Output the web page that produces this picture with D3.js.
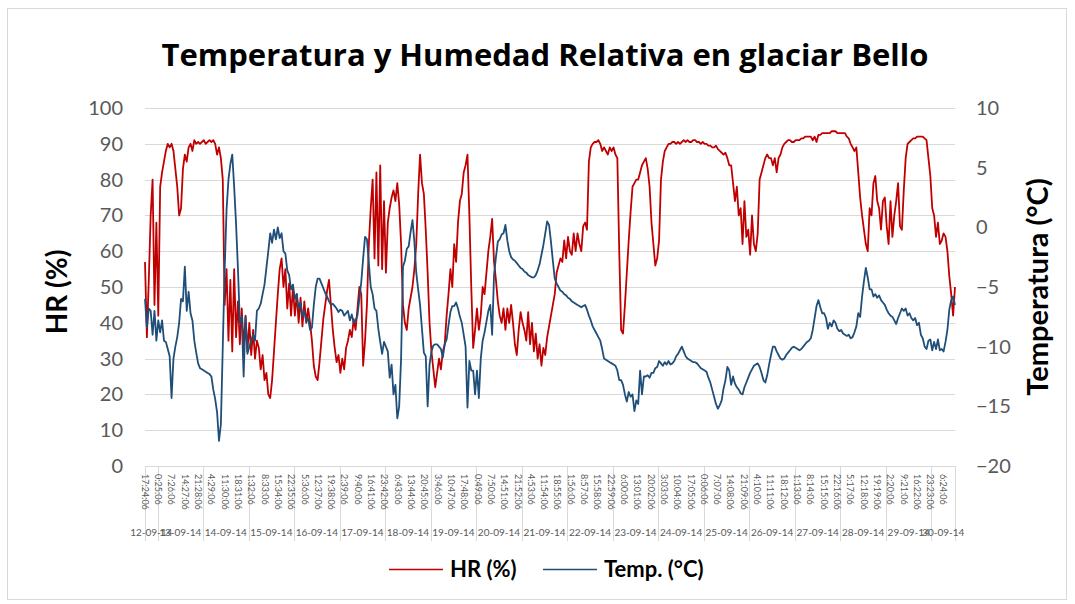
<!DOCTYPE html>
<html lang="es">
<head>
    <meta charset="utf-8">
    <title>Temperatura y Humedad Relativa en glaciar Bello</title>
    <script src="https://d3js.org/d3.v7.min.js"></script>
    <style type="text/css">
        body { margin: 0; background: #fff; }
        text { font-family: Lato, "Open Sans", sans-serif; }
        .grid line { stroke: #d9d9d9; stroke-width: 1px; }
        .axis text { fill: #595959; font-size: 20px; }
        .line { fill: none; stroke-width: 1.8px; stroke-linejoin: round; }
        .title { font-family: "Open Sans", Lato, sans-serif; font-size: 31px; font-weight: bold; fill: #000; }
        .axis-title { font-size: 28px; font-weight: bold; fill: #000; }
        .legend text { font-size: 22px; font-weight: bold; fill: #000; }
    </style>
</head>
<body>
<script type="text/javascript">

// Data: hourly readings, glaciar Bello, from 12-09-14 17:24:06
const startTime = "2014-09-12 17:24:06";
const stepHours = 1;

const hrValues = [
    57, 36, 52, 70, 80, 45, 68, 42, 78, 82,
    85, 88, 90, 89, 90, 88, 83, 78, 70, 72,
    83, 87, 85, 89, 90, 88, 91, 90, 90.5, 90,
    90.5, 91, 90, 90.5, 91, 90.5, 91, 90, 87, 89,
    86, 80, 45, 55, 35, 52, 32, 55, 36, 46,
    34, 44, 33, 42, 32, 40, 31, 38, 30, 35,
    33, 27, 31, 24, 26, 20, 19, 24, 32, 40,
    48, 55, 58, 50, 55, 44, 51, 42, 50, 42,
    48, 40, 47, 39, 46, 40, 44, 40, 35, 28,
    25, 24, 29, 35, 41, 45, 49, 52, 45, 38,
    33, 29, 31, 26, 30, 27, 33, 35, 38, 36,
    41, 38, 44, 50, 48, 28, 35, 45, 62, 72,
    80, 58, 82, 56, 84, 55, 74, 54, 68, 72,
    75, 77, 74, 79, 73, 62, 45, 40, 38, 44,
    47, 50, 55, 62, 76, 87, 79, 76, 66, 54,
    40, 32, 27, 22, 26, 30, 27, 32, 34, 42,
    48, 55, 50, 62, 57, 68, 74, 76, 82, 84,
    87, 70, 50, 33, 38, 44, 38, 42, 50, 48,
    54, 60, 64, 69, 57, 52, 46, 42, 40, 44,
    38, 44, 40, 45, 40, 34, 31, 38, 43, 40,
    38, 35, 43, 34, 40, 32, 37, 30, 34, 28,
    33, 31, 36, 39, 42, 45, 48, 54, 56, 58,
    57, 63, 58, 64, 60, 59, 65, 60, 65, 62,
    60, 67, 68, 66, 85, 89, 90, 90.5, 90.5, 91,
    90, 88, 89, 88, 87, 89, 88, 89, 87, 86,
    60, 38, 37, 45, 54, 63, 71, 78, 79, 80,
    80, 82, 84, 85, 86, 83, 78, 68, 62, 56,
    58, 63, 80, 85, 88, 89, 90, 90, 90.5, 90.5,
    90, 90.5, 90, 90.5, 91, 90.5, 91, 90.5, 90.5, 91,
    91, 90.5, 90.5, 90, 90.5, 90, 90, 89.5, 89.5, 89,
    89, 89.5, 88.5, 88, 87.5, 87, 87.5, 86, 84, 84,
    79, 74, 78, 70, 72, 62, 74, 64, 66, 59,
    70, 62, 60, 65, 80, 82, 84, 86, 87, 86,
    86, 84, 86, 82, 86, 87, 89, 90, 90.5, 91,
    91, 90.5, 90.5, 91, 91, 91, 91.5, 91.5, 92, 92,
    92, 92, 91, 92, 90.5, 92.5, 92.5, 93, 93, 93,
    93, 93, 93.5, 93.5, 93.5, 93, 93, 93, 93, 93,
    92, 91.5, 90, 89, 88, 89, 82, 75, 70, 66,
    62, 60, 72, 70, 79, 81, 74, 72, 66, 74,
    75, 67, 62, 74, 64, 70, 74, 79, 67, 66,
    77, 86, 90, 90.5, 91, 91.5, 91.5, 92, 92, 92,
    92, 91.5, 91, 86, 81, 72, 70, 64, 68, 62,
    63, 65, 64, 60, 53, 48, 42, 50
];

const tempValues = [
    -6.0, -8.4, -6.8, -7.0, -9.0, -7.0, -9.5, -7.8, -8.8, -7.8,
    -9.5, -9.6, -10.2, -10.8, -14.3, -11.0, -10.0, -9.2, -8.0, -6.0,
    -6.2, -3.3, -7.0, -5.4, -7.2, -7.8, -9.5, -10.5, -11.4, -11.8,
    -11.9, -12.0, -12.1, -12.2, -12.3, -12.5, -13.6, -14.4, -15.5, -17.9,
    -16.5, -10.0, -3.5, 1.5, 4.0, 5.3, 6.1, 3.4, 0.3, -3.5,
    -8.0, -7.5, -12.5, -7.5, -10.6, -10.0, -9.5, -9.0, -9.5, -7.0,
    -6.8, -6.4, -5.6, -4.8, -3.4, -2.0, -0.5, -1.3, -0.2, -1.0,
    0.0, -0.9, -0.5, -2.0, -2.2, -3.6, -4.0, -5.2, -4.8, -6.0,
    -5.6, -6.8, -6.3, -7.5, -7.0, -7.9, -7.6, -8.6, -8.4, -6.5,
    -5.0, -4.3, -4.3, -4.7, -5.1, -5.5, -5.8, -6.2, -6.5, -6.4,
    -6.6, -6.8, -7.1, -6.9, -7.0, -7.4, -7.2, -7.0, -7.8, -7.3,
    -8.0, -7.8, -7.4, -6.0, -4.6, -2.6, -0.8, -1.0, -3.0, -5.0,
    -5.6, -6.8, -7.0, -8.5, -9.6, -10.6, -9.6, -10.0, -10.4, -12.6,
    -11.5, -14.0, -13.2, -16.0, -15.0, -11.0, -3.3, -2.8, -1.8, -1.6,
    -0.4, 0.6, -1.2, -3.8, -5.2, -6.5, -8.5, -10.5, -10.8, -15.0,
    -11.5, -10.4, -9.9, -9.8, -9.8, -10.0, -10.2, -10.9, -9.8, -9.4,
    -8.2, -7.1, -6.6, -6.6, -6.3, -6.8, -7.5, -8.0, -9.0, -10.0,
    -15.1, -11.2, -12.0, -12.0, -14.0, -12.0, -14.3, -11.0, -9.5, -8.8,
    -7.9, -7.0, -6.5, -9.0, -4.0, -2.5, -1.2, -1.0, -0.6, -0.5,
    0.2, -1.1, -2.0, -2.5, -2.7, -2.8, -3.0, -3.2, -3.4, -3.5,
    -3.7, -3.8, -4.0, -4.1, -4.2, -4.2, -4.0, -3.6, -3.1, -2.3,
    -1.5, -0.5, 0.5, 0.2, -1.2, -2.8, -4.3, -4.7, -5.0, -5.3,
    -5.4, -5.6, -5.7, -5.9, -6.0, -6.2, -6.3, -6.4, -6.5, -6.6,
    -6.7, -6.6, -6.5, -6.9, -7.4, -7.8, -8.3, -8.6, -8.9, -9.2,
    -9.5, -10.2, -11.0, -11.1, -11.2, -11.3, -11.4, -11.5, -11.6, -12.0,
    -12.8, -12.8, -13.2, -14.0, -14.6, -13.8, -14.2, -14.0, -15.4, -14.5,
    -14.8, -12.0, -14.0, -12.5, -12.5, -12.4, -12.6, -12.2, -12.2, -11.8,
    -11.7, -11.2, -11.4, -11.6, -11.3, -11.5, -11.2, -11.5, -11.4, -11.2,
    -10.8, -10.6, -10.3, -10.0, -10.4, -10.8, -11.0, -11.1, -11.2, -11.3,
    -11.3, -11.4, -11.6, -11.8, -11.9, -12.0, -12.1, -12.6, -13.0, -13.6,
    -14.2, -14.8, -15.2, -14.9, -14.5, -13.5, -12.8, -11.7, -12.0, -13.2,
    -12.5, -13.1, -13.4, -13.6, -13.9, -14.0, -13.4, -13.0, -12.6, -12.2,
    -11.9, -11.6, -11.5, -11.4, -11.7, -12.2, -12.8, -13.0, -12.4, -11.5,
    -10.7, -10.0, -10.0, -10.4, -10.7, -11.0, -11.1, -11.0, -10.7, -10.5,
    -10.3, -10.1, -10.0, -10.1, -10.2, -10.3, -10.2, -10.0, -9.8, -9.6,
    -9.5, -9.3, -8.6, -7.6, -6.6, -6.1, -6.7, -7.2, -7.2, -7.6,
    -8.5, -8.0, -8.3, -7.8, -8.0, -8.5, -8.7, -8.6, -8.9, -9.0,
    -9.1, -9.0, -9.3, -9.2, -8.8, -8.3, -7.2, -7.5, -5.8, -4.5,
    -3.4, -4.2, -5.2, -5.2, -5.8, -5.6, -5.9, -5.7, -6.1, -6.3,
    -6.5, -6.9, -7.2, -7.4, -7.5, -7.8, -8.1, -7.6, -7.2, -6.8,
    -7.0, -6.8, -7.4, -7.2, -7.6, -7.8, -7.6, -8.2, -8.0, -9.0,
    -9.3, -10.0, -10.2, -9.5, -9.4, -10.3, -9.6, -10.2, -9.4, -10.3,
    -10.2, -10.4, -9.6, -8.6, -6.9, -6.1, -5.8, -6.5
];

// category labels of the x axis: one every 421 minutes, then the days
const labelStepMinutes = 421;
const timeLabels = [
    "17:24:06", "0:25:06", "7:26:06", "14:27:06", "21:28:06", "4:29:06", "11:30:06",
    "18:31:06", "1:32:06", "8:33:06", "15:34:06", "22:35:06", "5:36:06", "12:37:06",
    "19:38:06", "2:39:06", "9:40:06", "16:41:06", "23:42:06", "6:43:06", "13:44:06",
    "20:45:06", "3:46:06", "10:47:06", "17:48:06", "0:49:06", "7:50:06", "14:51:06",
    "21:52:06", "4:53:06", "11:54:06", "18:55:06", "1:56:06", "8:57:06", "15:58:06",
    "22:59:06", "6:00:06", "13:01:06", "20:02:06", "3:03:06", "10:04:06", "17:05:06",
    "0:06:06", "7:07:06", "14:08:06", "21:09:06", "4:10:06", "11:11:06", "18:12:06",
    "1:13:06", "8:14:06", "15:15:06", "22:16:06", "5:17:06", "12:18:06", "19:19:06",
    "2:20:06", "9:21:06", "16:22:06", "23:23:06", "6:24:06"
];
const dayLabels = [
    "12-09-14", "13-09-14", "14-09-14", "15-09-14", "16-09-14", "17-09-14", "18-09-14",
    "19-09-14", "20-09-14", "21-09-14", "22-09-14", "23-09-14", "24-09-14", "25-09-14",
    "26-09-14", "27-09-14", "28-09-14", "29-09-14", "30-09-14"
];
const hrTicks = [0, 10, 20, 30, 40, 50, 60, 70, 80, 90, 100];
const tempTicks = [-20, -15, -10, -5, 0, 5, 10];

const w = 1075;
const h = 604;
const plotLeft = 145, plotRight = 955, plotTop = 108, plotBottom = 466;

const parseTime = d3.timeParse("%Y-%m-%d %H:%M:%S");
const t0 = parseTime(startTime);
const times = hrValues.map((d, i) => d3.timeMinute.offset(t0, i * stepHours * 60));
const tEnd = times[times.length - 1];

const hrData = hrValues.map((v, i) => ({ date: times[i], value: v }));
const tempData = tempValues.map((v, i) => ({ date: times[i], value: v }));

// Scales
const xScale = d3.scaleTime().domain([t0, tEnd]).range([plotLeft, plotRight]);
const yLeft = d3.scaleLinear().domain([0, 100]).range([plotBottom, plotTop]);
const yRight = d3.scaleLinear().domain([-20, 10]).range([plotBottom, plotTop]);

const svg = d3.select("body")
    .append("svg")
    .attr("width", w)
    .attr("height", h);

// chart border
svg.append("rect")
    .attr("x", 7.5).attr("y", 8.5)
    .attr("width", 1059).attr("height", 591)
    .attr("fill", "#fff")
    .attr("stroke", "#d9d9d9");

// Title
svg.append("text")
    .attr("class", "title")
    .attr("x", 545)
    .attr("y", 66)
    .attr("text-anchor", "middle")
    .text("Temperatura y Humedad Relativa en glaciar Bello");

// Gridlines
svg.append("g")
    .attr("class", "grid")
    .selectAll("line")
    .data(hrTicks.filter(d => d > 0))
    .join("line")
    .attr("x1", plotLeft).attr("x2", plotRight)
    .attr("y1", d => Math.round(yLeft(d)) + 0.5)
    .attr("y2", d => Math.round(yLeft(d)) + 0.5);

// Axes (y)
const leftAxis = d3.axisLeft(yLeft).tickValues(hrTicks).tickSize(0).tickPadding(22);
svg.append("g")
    .attr("class", "axis")
    .attr("transform", "translate(" + plotLeft + ",0)")
    .call(leftAxis)
    .call(g => g.select(".domain").remove());

const rightAxis = d3.axisRight(yRight).tickValues(tempTicks).tickSize(0).tickPadding(21);
svg.append("g")
    .attr("class", "axis")
    .attr("transform", "translate(" + plotRight + ",0)")
    .call(rightAxis)
    .call(g => g.select(".domain").remove());

// x axis: two level category labels
const xAxis = svg.append("g").attr("class", "xaxis");
xAxis.append("line")
    .attr("x1", plotLeft).attr("x2", plotRight)
    .attr("y1", plotBottom + 0.5).attr("y2", plotBottom + 0.5)
    .attr("stroke", "#d9d9d9");

const midnights = d3.timeDay.range(d3.timeDay.ceil(t0), tEnd);
const edges = [t0].concat(midnights, [tEnd]);

xAxis.selectAll(".sep")
    .data(edges)
    .join("line")
    .attr("class", "sep")
    .attr("x1", d => Math.round(xScale(d)) + 0.5)
    .attr("x2", d => Math.round(xScale(d)) + 0.5)
    .attr("y1", plotBottom).attr("y2", 541)
    .attr("stroke", "#d9d9d9");

xAxis.selectAll(".tlabel")
    .data(timeLabels)
    .join("text")
    .attr("class", "tlabel")
    .attr("transform", (d, i) => "translate(" + xScale(d3.timeMinute.offset(t0, i * labelStepMinutes)) + ",474) rotate(90)")
    .attr("dy", "0.35em")
    .attr("font-size", "9px")
    .attr("fill", "#595959")
    .text(d => d);

xAxis.selectAll(".dlabel")
    .data(dayLabels)
    .join("text")
    .attr("class", "dlabel")
    .attr("x", (d, i) => (xScale(edges[i]) + xScale(edges[i + 1])) / 2)
    .attr("y", 536)
    .attr("text-anchor", "middle")
    .attr("font-size", "10px")
    .attr("fill", "#595959")
    .text(d => d);

// Lines
const hrLine = d3.line()
    .x(d => xScale(d.date))
    .y(d => yLeft(d.value));

const tempLine = d3.line()
    .x(d => xScale(d.date))
    .y(d => yRight(d.value));

svg.append("path")
    .datum(hrData)
    .attr("class", "line")
    .attr("stroke", "#c00000")
    .attr("d", hrLine);

svg.append("path")
    .datum(tempData)
    .attr("class", "line")
    .attr("stroke", "#1f4e79")
    .attr("d", tempLine);

// Axis titles
svg.append("text")
    .attr("class", "axis-title")
    .attr("transform", "translate(57,292) rotate(-90)")
    .attr("text-anchor", "middle")
    .attr("dy", "0.35em")
    .text("HR (%)");

svg.append("text")
    .attr("class", "axis-title")
    .attr("transform", "translate(1038,287) rotate(-90)")
    .attr("text-anchor", "middle")
    .attr("dy", "0.35em")
    .attr("font-size", "29px")
    .style("font-size", "29px")
    .text("Temperatura (°C)");

// Legend
const legendItems = [
    { name: "HR (%)", color: "#c00000", x: 389 },
    { name: "Temp. (°C)", color: "#1f4e79", x: 543 }
];
const legend = svg.append("g").attr("class", "legend");
legendItems.forEach(item => {
    legend.append("line")
        .attr("x1", item.x).attr("x2", item.x + 54)
        .attr("y1", 569.5).attr("y2", 569.5)
        .attr("stroke", item.color)
        .attr("stroke-width", 1.5);
    legend.append("text")
        .attr("x", item.x + 61)
        .attr("y", 569)
        .attr("dy", "0.35em")
        .text(item.name);
});

</script>
</body>
</html>
